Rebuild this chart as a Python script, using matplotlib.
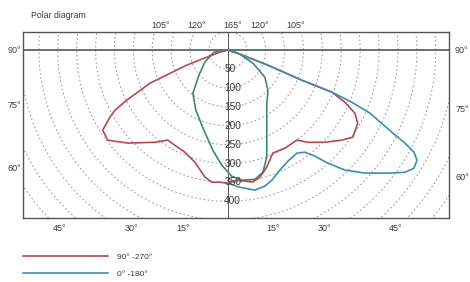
import numpy as np
import matplotlib.pyplot as plt

plt.rcParams['font.family'] = ['Liberation Sans', 'DejaVu Sans']

# luminous intensity (cd/klm) against angle from nadir (deg), right side positive
red_ang = [-90, -76, -70, -67, -63.7, -62, -60.4, -57.4, -53.1, -47.1, -38.4, -33.7,
           -29.2, -22.9, -16.4, -10.3, -6.9, -3.5, 0, 4, 10.7, 14.1, 18.4, 23.6,
           30.2, 37.5, 41, 46.5, 51.7, 55.2, 60.7, 63.6, 66, 68, 67.9, 69.4, 74, 90]
red_val = [0, 22, 116, 224, 298, 338, 359, 393, 397, 361, 311, 286,
           288, 293, 309, 341, 352, 350, 352, 345, 355, 347, 326, 297,
           300, 300, 323, 354, 384, 403, 394, 375, 339, 297, 211, 113, 19, 0]

blue_ang = [0, 5, 10.9, 15.2, 18.7, 23.4, 28.4, 33.8, 37, 39.4, 41.5, 44.3, 48.1,
            52.3, 55.4, 57.6, 59.8, 61.3, 62.3, 63.3, 66.1, 67.3, 68, 67.9, 69.4, 74, 90]
blue_val = [352, 364, 377, 373, 363, 346, 334, 328, 338, 363, 399, 443, 487,
            532, 569, 583, 579, 561, 529, 489, 411, 350, 297, 211, 113, 19, 0]

green_ang = [-90, -81.9, -62.4, -49.2, -39.1, -28.1, -16.7, -8.5, -3, 1.8, 6.1,
             11.8, 16, 20, 26, 35.3, 45, 53.9, 62.5, 71.6, 90]
green_val = [0, 37, 69, 101, 147, 180, 221, 268, 305, 334, 346,
             349, 336, 301, 235, 178, 150, 121, 75, 33, 0]

rings = list(range(50, 800, 50))
ring_labels = [50, 100, 150, 200, 250, 300, 350, 400]
side_angles = [90, 75, 60]
bottom_angles = [45, 30, 15]
top_angles = [105, 120]
legend_labels = ['90° -270°', '0° -180°']


def to_xy(ang, val):
    a = np.radians(ang)
    v = np.array(val, dtype=float)
    return v * np.sin(a), -v * np.cos(a)


fig = plt.figure(figsize=(4.7, 2.82), dpi=100)
ax = fig.add_axes([23 / 470, 1 - 218 / 282, 426 / 470, 186 / 282])
x0, x1, y0, y1 = -542, 585, -444, 48
ax.set_xlim(x0, x1)
ax.set_ylim(y0, y1)
ax.set_xticks([])
ax.set_yticks([])
for s in ax.spines.values():
    s.set_color('#555555')
    s.set_linewidth(1.0)

txt = '#3a3a3a'

# dashed intensity rings
t = np.linspace(0, 2 * np.pi, 400)
for r in rings:
    ax.plot(r * np.sin(t), r * np.cos(t), color='#9a9a9a', lw=0.75,
            linestyle=(0, (1.6, 2.4)))

ax.axhline(0, color='#555555', lw=1.2)
ax.axvline(0, color='#555555', lw=0.7)

for r in ring_labels:
    ax.text(-10, -r, str(r), ha='left', va='center', fontsize=7.3, color=txt)

gx, gy = to_xy(green_ang, green_val)
ax.plot(gx, gy, color='#3e8a6e', lw=1.2)
rx, ry = to_xy(red_ang, red_val)
ax.plot(rx, ry, color='#b54852', lw=1.2)
bx, by = to_xy(blue_ang, blue_val)
ax.plot(bx, by, color='#3d8db2', lw=1.2)

# angle labels round the frame
for a in side_angles:
    yl = 0 if a == 90 else x0 / np.tan(np.radians(a))
    yr = 0 if a == 90 else -x1 / np.tan(np.radians(a))
    ax.text(x0 - 24, yl, f'{a}°', ha='center', va='center', fontsize=6.5,
            color=txt, clip_on=False)
    ax.text(x1 + 34, yr, f'{a}°', ha='center', va='center', fontsize=6.5,
            color=txt, clip_on=False)
for a in bottom_angles:
    xb = -y0 * np.tan(np.radians(a))
    for sgn in (-1, 1):
        ax.text(sgn * xb, y0 - 27, f'{a}°', ha='center', va='center',
                fontsize=6.5, color=txt, clip_on=False)
for a in top_angles:
    xt = y1 / np.tan(np.radians(a - 90))
    for sgn in (-1, 1):
        ax.text(sgn * xt, y1 + 16, f'{a}°', ha='center', va='center',
                fontsize=6.5, color=txt, clip_on=False)
ax.text(y1 * np.tan(np.radians(15)), y1 + 16, '165°', ha='center', va='center',
        fontsize=6.5, color=txt, clip_on=False)

fig.text(31 / 470, 1 - 16 / 282, 'Polar diagram', ha='left', va='center',
         fontsize=6.3, color=txt)

h1, = ax.plot([], [], color='#b54852', lw=1.2)
h2, = ax.plot([], [], color='#3d8db2', lw=1.2)
fig.legend([h1, h2], legend_labels, loc='upper left',
           bbox_to_anchor=(23 / 470, 1 - 253 / 282), frameon=False, fontsize=6,
           handlelength=10.2, handletextpad=1.1, labelspacing=1.16,
           borderpad=0, borderaxespad=0, labelcolor=txt)

fig.savefig('out.png', dpi=100)
